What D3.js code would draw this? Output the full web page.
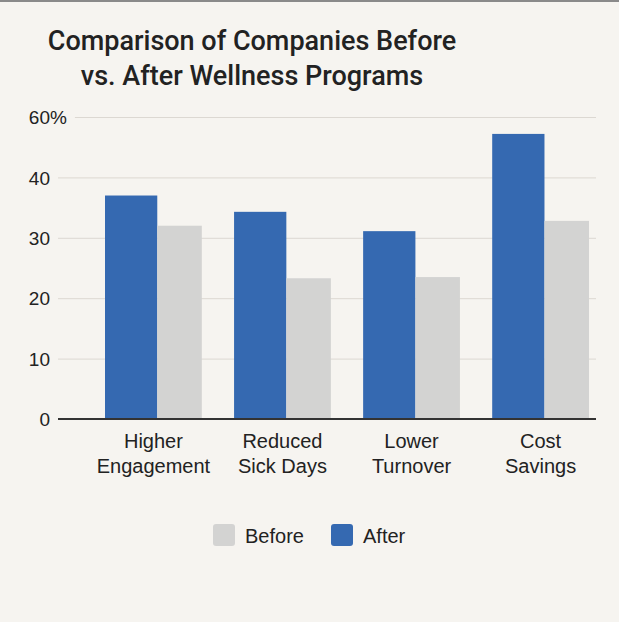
<!DOCTYPE html>
<html>
<head>
<meta charset="utf-8">
<script src="https://cdn.jsdelivr.net/npm/d3@7"></script>
<style>
  html, body { margin: 0; padding: 0; background: #f6f4f0; }
  svg { display: block; }
</style>
</head>
<body>
<svg id="chart" width="619" height="622"></svg>
<script>
const categories = [["Higher", "Engagement"], ["Reduced", "Sick Days"], ["Lower", "Turnover"], ["Cost", "Savings"]];
const afterValues = [37, 34.3, 31.1, 47.2];
const beforeValues = [32, 23.3, 23.5, 32.8];
const tickValues = [0, 10, 20, 30, 40, 50];
const tickLabels = ["0", "10", "20", "30", "40", "60%"];
const seriesNames = ["Before", "After"];

const width = 619,
  height = 622,
  colors = { Before: "#d3d3d2", After: "#3569b1" };

const svg = d3.select("#chart");

svg.append("rect").attr("width", width).attr("height", height).attr("fill", "#f6f4f0");
svg.append("rect").attr("width", width).attr("height", 2).attr("fill", "#8a8a8a");

// title
svg.append("text")
  .attr("text-anchor", "middle")
  .attr("font-family", "Roboto, sans-serif")
  .attr("font-size", 27)
  .attr("font-weight", 500)
  .attr("fill", "#222")
  .selectAll("tspan")
  .data(["Comparison of Companies Before", "vs. After Wellness Programs"])
  .join("tspan")
  .attr("x", 252)
  .attr("y", (d, i) => 49.5 + i * 35.5)
  .text((d) => d);

const keys = categories.map((c) => c.join(" "));
const x = d3.scaleBand().domain(keys).range([105, 589]).paddingInner(0.25).paddingOuter(0);
const y = d3.scaleLinear().domain([0, 50]).range([419, 117]);

// grid + y labels
const yAxis = svg.append("g")
  .attr("transform", "translate(50,0)")
  .call(d3.axisLeft(y).tickValues(tickValues).tickSize(0).tickPadding(0)
    .tickFormat((d, i) => tickLabels[i]));
yAxis.select(".domain").remove();
yAxis.selectAll("text")
  .attr("font-family", "'Liberation Sans', Arial, sans-serif")
  .attr("font-size", 19)
  .attr("fill", "#222")
  .attr("dy", "0.35em");

yAxis.selectAll(".tick").each(function (d, i) {
  const t = d3.select(this).select("text");
  let shift = 0;
  if (tickLabels[i].endsWith("%")) {
    const full = t.node().getComputedTextLength();
    t.text(tickLabels[i].slice(0, -1));
    const base = t.node().getComputedTextLength();
    t.text(tickLabels[i]);
    shift = full - base;
    t.attr("dx", shift);
  }
  d3.select(this).append("line")
    .attr("x1", 8 + shift)
    .attr("x2", 546)
    .attr("stroke", "#dcd8d2")
    .attr("stroke-width", 1);
});

// bars
const g = svg.append("g");
const afterW = x.bandwidth() * 0.54;

g.selectAll(".after")
  .data(afterValues)
  .join("rect")
  .attr("class", "after")
  .attr("x", (d, i) => x(keys[i]))
  .attr("width", afterW)
  .attr("y", (d) => y(d))
  .attr("height", (d) => y(0) - y(d))
  .attr("fill", colors.After);

g.selectAll(".before")
  .data(beforeValues)
  .join("rect")
  .attr("class", "before")
  .attr("x", (d, i) => x(keys[i]) + afterW)
  .attr("width", x.bandwidth() - afterW)
  .attr("y", (d) => y(d))
  .attr("height", (d) => y(0) - y(d))
  .attr("fill", colors.Before);

// baseline
svg.append("line")
  .attr("x1", 58).attr("x2", 596)
  .attr("y1", y(0)).attr("y2", y(0))
  .attr("stroke", "#333").attr("stroke-width", 2);

// category labels
svg.selectAll(".cat")
  .data(categories)
  .join("text")
  .attr("class", "cat")
  .attr("text-anchor", "middle")
  .attr("font-family", "'Liberation Sans', Arial, sans-serif")
  .attr("font-size", 20)
  .attr("fill", "#222")
  .each(function (d, i) {
    d3.select(this).selectAll("tspan")
      .data(d)
      .join("tspan")
      .attr("x", x(keys[i]) + x.bandwidth() / 2)
      .attr("y", (t, j) => 448 + j * 25)
      .text((t) => t);
  });

// legend
const legendX = [213, 331];
const legend = svg.selectAll(".legend")
  .data(seriesNames)
  .join("g")
  .attr("class", "legend")
  .attr("transform", (d, i) => `translate(${legendX[i]}, 524)`);
legend.append("rect")
  .attr("width", 22).attr("height", 22).attr("rx", 3)
  .attr("fill", (d) => colors[d]);
legend.append("text")
  .attr("x", 32).attr("y", 19)
  .attr("font-family", "'Liberation Sans', Arial, sans-serif")
  .attr("font-size", 20)
  .attr("fill", "#222")
  .text((d) => d);
</script>
</body>
</html>
